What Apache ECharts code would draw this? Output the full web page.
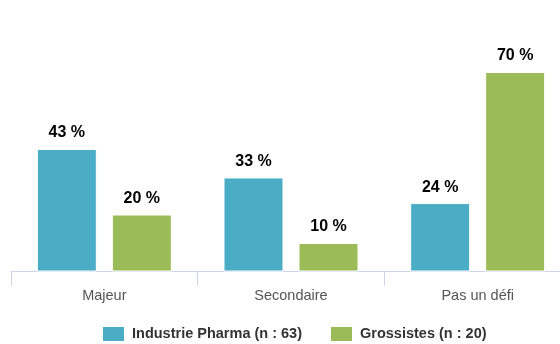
<!DOCTYPE html>
<html>
<head>
<meta charset="utf-8">
<script src="https://cdn.jsdelivr.net/npm/echarts@6/dist/echarts.min.js"></script>
<style>
  html, body { margin: 0; padding: 0; background: #fff; overflow: hidden; }
  /* the last category band runs past the right edge of the window */
  #chart { width: 571px; height: 344px; }
</style>
</head>
<body>
<div id="chart"></div>
<script>
// Categories and series values (percent)
const categories = ['Majeur', 'Secondaire', 'Pas un défi'];
const pharmaName = 'Industrie Pharma (n : 63)';
const pharmaValues = [43, 33, 24];
const grossistesName = 'Grossistes (n : 20)';
const grossistesValues = [20, 10, 70];

const font = '"Liberation Sans", Arial, Helvetica, sans-serif';

const chart = echarts.init(document.getElementById('chart'), null, { renderer: 'canvas' });

const valueLabel = {
  show: true,
  position: 'top',
  distance: 8,
  formatter: p => p.value + ' %',
  fontFamily: font,
  fontSize: 16,
  fontWeight: 'bold',
  color: '#000'
};

chart.setOption({
  animation: false,
  backgroundColor: '#fff',
  grid: { left: 11, top: 72, right: 0, bottom: 72.5, containLabel: false },
  legend: {
    left: 96,
    top: 320,
    itemWidth: 23,
    itemHeight: 16,
    itemGap: 27,
    icon: 'rect',
    textStyle: { fontFamily: font, fontSize: 14.5, fontWeight: 'bold', color: '#333', padding: [0, 0, 0, 2] },
    data: [pharmaName, grossistesName]
  },
  xAxis: {
    type: 'category',
    data: categories,
    boundaryGap: true,
    axisLine: { lineStyle: { color: '#ccd6eb', width: 1 } },
    axisTick: { show: true, length: 14, lineStyle: { color: '#ccd6eb' } },
    axisLabel: { margin: 17, fontFamily: font, fontSize: 14.5, color: '#555' }
  },
  yAxis: {
    type: 'value',
    min: 0,
    max: 70,
    show: false,
    splitLine: { show: false }
  },
  series: [
    {
      name: pharmaName,
      type: 'bar',
      data: pharmaValues,
      barWidth: 60,
      barGap: '25%',
      itemStyle: { color: '#4bacc6', borderColor: '#fff', borderWidth: 1 },
      label: valueLabel
    },
    {
      name: grossistesName,
      type: 'bar',
      data: grossistesValues,
      barWidth: 60,
      itemStyle: { color: '#9bbb59', borderColor: '#fff', borderWidth: 1 },
      label: valueLabel
    }
  ]
});
</script>
</body>
</html>
